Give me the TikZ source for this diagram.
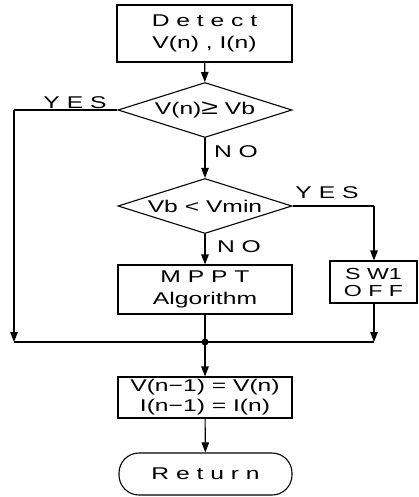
\documentclass[tikz,border=0pt]{standalone}
\usepackage{fontspec}
\setmainfont{Liberation Sans}[FakeStretch=1.45]
\usetikzlibrary{shapes.geometric,arrows.meta}
\begin{document}
\begin{tikzpicture}[x=1pt,y=-1pt,
  every node/.style={font=\fontsize{17}{22}\selectfont},
  line/.style={line width=1.1pt},
  arr/.style={line width=1.1pt,-{Triangle[length=10pt,width=7.5pt]}},
  box/.style={draw,line width=1.1pt,inner sep=0pt,align=center},
  dec/.style={draw,diamond,aspect=3.16,line width=1.1pt,inner sep=0pt,minimum width=174pt,minimum height=55pt},
  lbl/.style={inner sep=0pt}]
\useasboundingbox (0,0) rectangle (418,497);
\node[box,minimum width=175pt,minimum height=57pt] (detect) at (204.5,33.5) {D e t e c t\\V(n) , I(n)};
\node[dec] (d1) at (205,110) {V(n){\fontsize{21}{22}\selectfont ≥} Vb};
\node[dec] (d2) at (205,206) {Vb < Vmin};
\node[box,minimum width=174pt,minimum height=49pt] (mppt) at (205,289.5) {M P P T\\Algorithm};
\node[box,minimum width=87pt,minimum height=42pt,font=\fontsize{16}{17}\selectfont] (sw) at (373.5,282) {S W1\\O F F};
\node[box,minimum width=174pt,minimum height=41pt,font=\fontsize{17}{20}\selectfont] (upd) at (205,397.5) {V(n−1) = V(n)\\I(n−1) = I(n)};
\node[box,rounded corners=20pt,minimum width=173pt,minimum height=42pt] (ret) at (205.5,474) {R e t u r n};
\coordinate (ul) at (14,110);
\coordinate (jl) at (14,342);
\coordinate (j) at (205,342);
\coordinate (jr) at (374,342);
\coordinate (ur) at (374,206);
\draw[arr] (detect) -- (d1);
\draw[arr] (d1) -- (d2);
\draw[arr] (d2) -- (mppt);
\draw[line] (d1.west) -- (ul);
\draw[arr] (ul) -- (jl);
\draw[line] (d2.east) -- (ur);
\draw[arr] (ur) -- (sw.north -| ur);
\draw[arr] (sw.south -| jr) -- (jr);
\draw[line] (jl) -- (jr);
\draw[line] (mppt) -- (j);
\fill (j) circle (3.5pt);
\draw[arr] (j) -- (upd);
\draw[arr] (upd) -- (ret);
\node[lbl] (yes1) at (75,103) {Y E S};
\node[lbl] (no1) at (236,152) {N O};
\node[lbl] (yes2) at (327,193) {Y E S};
\node[lbl] (no2) at (239,247) {N O};
\end{tikzpicture}
\end{document}
